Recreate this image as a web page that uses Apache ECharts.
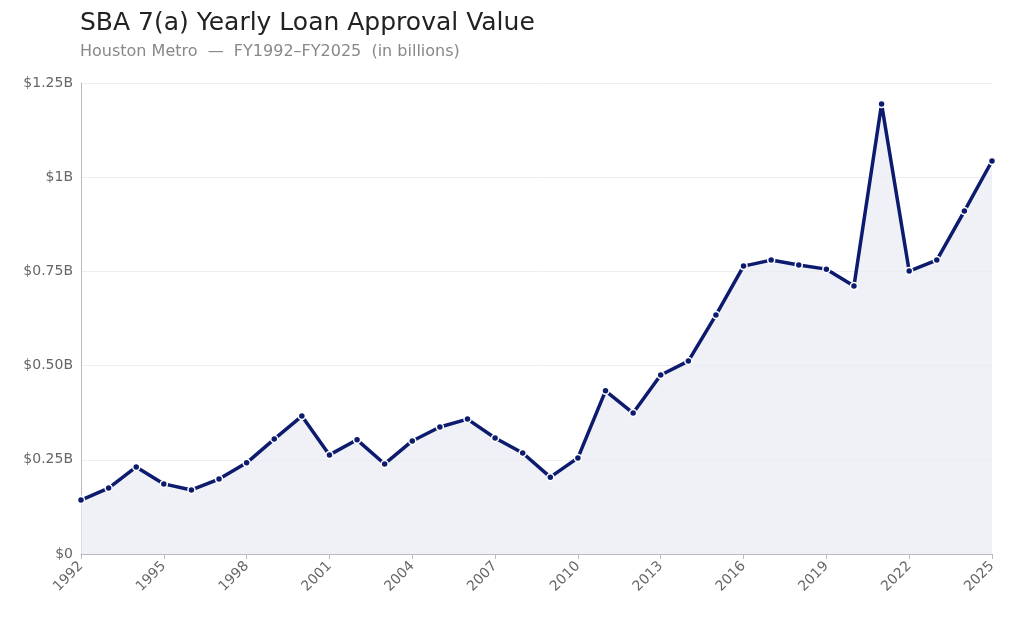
<!DOCTYPE html>
<html><head><meta charset="utf-8">
<script src="https://cdn.jsdelivr.net/npm/echarts@6/dist/echarts.min.js"></script>
<style>html,body{margin:0;padding:0;background:#fff}#c{width:1024px;height:619px}</style>
</head><body><div id="c"></div>
<script>
const years = [];
for (let y = 1992; y <= 2025; y++) years.push(String(y));
const values = [0.143,0.175,0.231,0.186,0.170,0.199,0.242,0.305,0.366,0.263,0.303,0.239,0.300,0.337,0.358,0.308,0.268,0.204,0.255,0.433,0.374,0.475,0.512,0.634,0.764,0.780,0.767,0.756,0.711,1.194,0.751,0.780,0.910,1.043];
const yTickLabels = {0:'$0',0.25:'$0.25B',0.5:'$0.50B',0.75:'$0.75B',1:'$1B',1.25:'$1.25B'};
const chart = echarts.init(document.getElementById('c'));
chart.setOption({
  animation:false,
  title:{text:'SBA 7(a) Yearly Loan Approval Value',subtext:'Houston Metro  —  FY1992–FY2025  (in billions)',left:75,top:6,
    textStyle:{fontSize:25,fontWeight:'normal',color:'#222',fontFamily:'DejaVu Sans'},
    subtextStyle:{fontSize:16,color:'#888',fontFamily:'DejaVu Sans'},itemGap:8},
  grid:{left:81,right:32,top:83,bottom:65},
  xAxis:{type:'category',data:years,boundaryGap:false,
    axisLine:{lineStyle:{color:'#bbb'}},axisTick:{show:true,interval:2,lineStyle:{color:'#bbb'}},
    axisLabel:{interval:2,rotate:45,color:'#666',fontSize:14,fontFamily:'DejaVu Sans',margin:10}},
  yAxis:{type:'value',min:0,max:1.25,interval:0.25,
    axisLine:{show:true,lineStyle:{color:'#bbb'}},axisTick:{show:false},
    splitLine:{lineStyle:{color:'#eee'}},
    axisLabel:{color:'#666',fontSize:14,fontFamily:'DejaVu Sans',formatter:v=>yTickLabels[Math.round(v*100)/100]??''}},
  series:[{type:'line',data:values,symbol:'circle',symbolSize:7,
    lineStyle:{color:'#0d1b6e',width:3.5},
    itemStyle:{color:'#0d1b6e',borderColor:'#fff',borderWidth:1.5},
    areaStyle:{color:'#e9eaf3'}}]
});
</script></body></html>
